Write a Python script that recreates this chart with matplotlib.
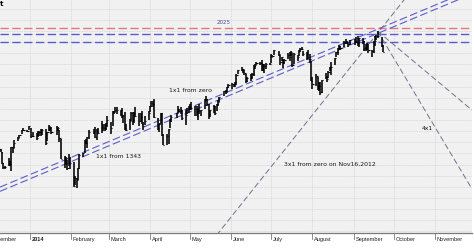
import matplotlib
matplotlib.use("Agg")
import matplotlib.pyplot as plt
import matplotlib.dates as mdates
import numpy as np
import pandas as pd
from matplotlib.ticker import MultipleLocator

# ---------------- data ----------------
holidays = ["2013-12-25", "2014-01-01", "2014-01-20", "2014-02-17",
            "2014-04-18", "2014-05-26", "2014-07-04", "2014-09-01"]
dates = pd.bdate_range("2013-12-09", "2014-09-23", freq="C", holidays=holidays)

highs = [
    # Dec 2013
    1811.52, 1808.00, 1802.97, 1782.99, 1777.23, 1792.22, 1786.77, 1811.08, 1810.88, 1823.75,
    1829.75, 1833.32, 1842.84, 1844.89, 1842.47, 1849.44,
    # Jan
    1845.86, 1838.24, 1837.16, 1840.10, 1840.02, 1843.23, 1843.15, 1843.45, 1839.26, 1850.84,
    1847.99, 1846.50, 1849.31, 1846.87, 1842.29, 1825.19, 1795.98, 1793.87, 1788.06, 1798.77,
    1793.88,
    # Feb
    1784.83, 1758.73, 1755.79, 1774.06, 1798.03, 1800.99, 1823.54, 1826.22, 1830.13, 1841.65,
    1843.88, 1847.50, 1842.87, 1846.13, 1858.71, 1852.65, 1852.94, 1854.53, 1867.92,
    # Mar
    1857.16, 1876.23, 1876.53, 1883.57, 1883.84, 1877.87, 1882.35, 1868.38, 1874.40, 1852.44,
    1862.30, 1873.76, 1874.14, 1873.49, 1883.97, 1873.34, 1871.87, 1875.92, 1855.55, 1866.63,
    1875.18,
    # Apr
    1885.84, 1893.17, 1893.80, 1897.28, 1864.04, 1854.95, 1872.43, 1872.53, 1835.07, 1834.19,
    1844.02, 1862.31, 1869.63, 1871.89, 1884.89, 1879.75, 1884.06, 1877.72, 1877.01, 1880.60,
    1885.20,
    # May
    1888.59, 1891.33, 1885.51, 1884.39, 1878.83, 1889.07, 1878.57, 1897.13, 1902.17, 1897.45,
    1888.53, 1878.28, 1886.00, 1885.39, 1888.80, 1896.33, 1901.26, 1912.28, 1914.46, 1920.03,
    1924.03,
    # Jun
    1925.88, 1925.07, 1928.63, 1941.74, 1949.44, 1955.55, 1950.86, 1949.20, 1943.36, 1937.30,
    1941.74, 1943.69, 1957.74, 1959.87, 1963.91, 1963.74, 1968.17, 1960.83, 1959.89, 1961.47,
    1962.29,
    # Jul
    1978.58, 1976.67, 1985.59, 1984.22, 1976.39, 1972.89, 1969.84, 1968.67, 1979.85, 1982.52,
    1983.94, 1979.75, 1979.91, 1976.93, 1986.24, 1989.23, 1991.39, 1984.60, 1981.52, 1984.85,
    1978.90, 1965.14,
    # Aug
    1937.35, 1942.92, 1936.34, 1927.91, 1928.89, 1932.38, 1944.90, 1939.65, 1948.41, 1955.23,
    1964.04, 1971.99, 1982.57, 1988.40, 1994.76, 1993.54, 2001.95, 2005.04, 2002.14, 1998.55,
    2004.28,
    # Sep
    2006.12, 2009.28, 2011.17, 2007.71, 2007.71, 2001.01, 1996.66, 1997.65, 1996.66, 1986.04,
    2002.33, 2010.74, 2012.34, 2019.26, 2009.08, 1995.41,
]

lows = [
    # Dec 2013
    1806.95, 1801.97, 1780.09, 1772.28, 1772.56, 1777.23, 1777.05, 1767.99, 1801.35, 1810.25,
    1822.64, 1828.02, 1834.96, 1839.81, 1838.77, 1842.41,
    # Jan
    1827.74, 1829.13, 1823.73, 1828.71, 1831.40, 1830.38, 1832.43, 1815.52, 1821.88, 1840.19,
    1840.30, 1835.23, 1832.38, 1840.88, 1820.06, 1790.29, 1772.88, 1781.82, 1770.96, 1777.13,
    1772.26,
    # Feb
    1739.66, 1743.82, 1737.92, 1752.63, 1772.64, 1792.65, 1800.41, 1815.97, 1809.22, 1825.59,
    1834.44, 1826.99, 1824.58, 1835.60, 1836.78, 1840.19, 1840.19, 1841.13, 1847.67,
    # Mar
    1834.44, 1849.23, 1871.11, 1874.18, 1870.30, 1867.04, 1863.88, 1854.38, 1841.86, 1839.57,
    1842.86, 1858.92, 1850.85, 1854.63, 1865.47, 1849.69, 1855.96, 1852.56, 1842.11, 1850.50,
    1859.36,
    # Apr
    1873.96, 1883.79, 1882.65, 1863.26, 1841.48, 1837.49, 1852.38, 1830.87, 1814.36, 1815.80,
    1816.29, 1846.13, 1856.72, 1863.18, 1872.62, 1873.91, 1870.24, 1859.70, 1850.61, 1870.78,
    1872.69,
    # May
    1878.04, 1878.50, 1866.77, 1867.72, 1859.79, 1870.05, 1867.02, 1880.03, 1896.06, 1885.77,
    1862.36, 1864.82, 1872.42, 1868.14, 1875.24, 1885.39, 1893.03, 1902.17, 1907.30, 1909.82,
    1916.64,
    # Jun
    1915.98, 1918.79, 1918.60, 1922.93, 1942.41, 1947.16, 1944.64, 1940.08, 1925.78, 1927.69,
    1929.17, 1933.55, 1939.29, 1952.26, 1959.17, 1958.89, 1948.34, 1947.49, 1944.69, 1952.18,
    1958.22,
    # Jul
    1962.29, 1972.58, 1975.88, 1974.88, 1959.46, 1965.40, 1952.86, 1959.63, 1969.80, 1965.34,
    1975.67, 1955.59, 1960.82, 1965.77, 1975.65, 1982.44, 1985.79, 1974.37, 1967.31, 1969.95,
    1962.42, 1930.67,
    # Aug
    1916.37, 1921.20, 1913.77, 1911.45, 1904.78, 1909.01, 1933.43, 1928.29, 1935.60, 1947.41,
    1941.50, 1959.45, 1972.73, 1976.77, 1986.25, 1984.76, 1991.74, 1998.59, 1996.20, 1990.52,
    1994.85,
    # Sep
    1994.85, 1998.14, 1992.54, 1990.10, 1995.60, 1984.61, 1982.99, 1985.93, 1980.26, 1973.48,
    1979.84, 1993.29, 2003.11, 2006.59, 1991.01, 1982.77,
]

closes = [
    # Dec 2013
    1808.37, 1802.62, 1782.22, 1775.50, 1775.32, 1786.54, 1781.00, 1810.65, 1809.60, 1818.32,
    1827.99, 1833.32, 1842.02, 1841.40, 1841.07, 1848.36,
    # Jan
    1831.98, 1831.37, 1826.77, 1837.88, 1837.49, 1838.13, 1842.37, 1819.20, 1838.88, 1848.38,
    1845.89, 1838.70, 1843.80, 1844.86, 1828.46, 1790.29, 1781.56, 1792.50, 1774.20, 1794.19,
    1782.59,
    # Feb
    1741.89, 1755.20, 1751.64, 1773.43, 1797.02, 1799.84, 1819.75, 1819.26, 1829.83, 1838.63,
    1840.76, 1828.75, 1839.78, 1836.25, 1847.61, 1845.12, 1845.16, 1854.29, 1859.45,
    # Mar
    1845.73, 1873.91, 1873.81, 1877.03, 1878.04, 1877.17, 1867.63, 1868.20, 1846.34, 1841.13,
    1858.83, 1872.25, 1860.77, 1872.01, 1866.52, 1857.44, 1865.62, 1852.56, 1849.04, 1857.62,
    1872.34,
    # Apr
    1885.52, 1890.90, 1888.77, 1865.09, 1845.04, 1851.96, 1872.18, 1833.08, 1815.69, 1830.61,
    1842.98, 1862.31, 1864.85, 1871.89, 1879.55, 1875.39, 1878.61, 1863.40, 1869.43, 1878.33,
    1883.95,
    # May
    1883.68, 1881.14, 1884.66, 1867.72, 1878.21, 1875.63, 1878.48, 1896.65, 1897.45, 1888.53,
    1870.85, 1877.86, 1885.08, 1872.83, 1888.03, 1892.49, 1900.53, 1911.91, 1909.78, 1920.03,
    1923.57,
    # Jun
    1924.97, 1924.24, 1927.88, 1940.46, 1949.44, 1951.27, 1950.79, 1943.89, 1930.11, 1936.16,
    1937.78, 1941.99, 1956.98, 1959.48, 1962.87, 1962.61, 1949.98, 1959.53, 1957.22, 1960.96,
    1960.23,
    # Jul
    1973.32, 1974.62, 1985.44, 1977.65, 1963.71, 1972.83, 1964.68, 1967.57, 1977.10, 1973.28,
    1981.57, 1958.12, 1978.22, 1973.63, 1983.53, 1987.01, 1987.98, 1978.34, 1978.91, 1969.95,
    1970.07, 1930.67,
    # Aug
    1925.15, 1938.99, 1920.21, 1920.24, 1909.57, 1931.59, 1936.92, 1933.75, 1946.72, 1955.18,
    1955.06, 1971.74, 1981.60, 1986.51, 1992.37, 1988.40, 1997.92, 2000.02, 2000.12, 1996.74,
    2003.37,
    # Sep
    2002.28, 2000.72, 1997.65, 2007.71, 2001.54, 1988.44, 1995.69, 1997.45, 1985.54, 1984.13,
    1998.98, 2001.57, 2011.36, 2010.40, 1994.29, 1982.77,
]

# Gann-fan parameters
origin_nov16 = "2012-11-16"      # 3x1 from zero and 1x1 from 1343 start here
base_1343 = 1343.35
origin_zero_1x1 = "2009-03-06"   # 1x1 from zero
top_date = "2014-09-19"
top_price = 2019.26
down_slopes = [4, 2]             # 4x1 and 2x1 down from the top
h_levels = [2025, 2015, 2000]
h_colors = ["#e07a7a", "#5a5ad0", "#5a5ad0"]

month_starts = pd.date_range("2013-12-01", "2014-11-01", freq="MS")
month_labels = ["December", "2014", "February", "March", "April", "May", "June",
                "July", "August", "September", "October", "November"]

# ---------------- figure ----------------
W, H = 474, 248
fig = plt.figure(figsize=(W / 100, H / 100), dpi=100)
fig.patch.set_facecolor("white")
ax = fig.add_axes([0, 15 / H, 472 / W, 233 / H])
ax.set_facecolor("#f1f1f1")

x0 = pd.Timestamp("2013-12-09 11:30")
x1 = pd.Timestamp("2014-11-28 19:00")

# grid (ticks first, then limits so the ticks do not widen the view)
ax.set_xticks(mdates.date2num(month_starts))
ax.yaxis.set_major_locator(MultipleLocator(20))
ax.set_xlim(mdates.date2num(x0), mdates.date2num(x1))
ax.set_ylim(1657.1, 2075.3)
ax.grid(True, which="major", color="#d2d2d2", linestyle=(0, (1, 1)), linewidth=0.6)
ax.set_axisbelow(True)
ax.tick_params(axis="both", which="both", length=0, labelleft=False, labelbottom=False)
for s in ["top", "right", "left"]:
    ax.spines[s].set_visible(False)
ax.spines["bottom"].set_color("#7a7a7a")
ax.spines["bottom"].set_linewidth(0.9)

# month labels + ticks
for d, lab in zip(month_starts, month_labels):
    xn = mdates.date2num(d)
    ax.plot([xn, xn], [0, -0.025], transform=ax.get_xaxis_transform(),
            color="#7a7a7a", lw=0.6, clip_on=False)
    ax.text(xn + 1.2, -0.018, lab, transform=ax.get_xaxis_transform(),
            ha="left", va="top", fontsize=4.1, family="Liberation Sans",
            fontweight="bold" if lab == "2014" else "normal", color="#222222")

# horizontal level lines
for lev, col in zip(h_levels, h_colors):
    ax.axhline(lev, color=col, lw=1.0, linestyle=(0, (6, 2.5)))

# Gann lines
lx = pd.date_range(x0, x1, periods=2)
lxn = mdates.date2num(lx)
days_nov16 = (lx - pd.Timestamp(origin_nov16)).total_seconds() / 86400
days_zero = (lx - pd.Timestamp(origin_zero_1x1)).total_seconds() / 86400

ax.plot(lxn, base_1343 + 1 * days_nov16, color="#5c5cc8", lw=0.8, linestyle=(0, (7, 3)))
ax.plot(lxn, 1 * days_zero, color="#5c5cc8", lw=0.8, linestyle=(0, (7, 3)))
ax.plot(lxn, 3 * days_nov16, color="#707090", lw=0.7, linestyle=(0, (6, 3)))

dx = pd.date_range(pd.Timestamp(top_date), x1, periods=2)
dxn = mdates.date2num(dx)
days_top = (dx - pd.Timestamp(top_date)).total_seconds() / 86400
for s in down_slopes:
    ax.plot(dxn, top_price - s * days_top, color="#707090", lw=0.7, linestyle=(0, (6, 3)))

# price bars (HLC)
xn = mdates.date2num(dates)
ax.vlines(xn, lows, highs, color="black", lw=1.15)
ax.hlines(closes, xn, xn + 0.9, color="black", lw=0.8)
ax.set_xlim(mdates.date2num(x0), mdates.date2num(x1))
ax.set_ylim(1657.1, 2075.3)

# annotations
tk = dict(transform=ax.transAxes, fontsize=4.4, color="#1a1a1a", ha="center", va="center",
          family="DejaVu Sans")
ax.text(190 / 472, 1 - 90 / 233, "1x1 from zero", **tk)
ax.text(118 / 472, 1 - 157 / 233, "1x1 from 1343", **tk)
ax.text(330 / 472, 1 - 164 / 233, "3x1 from zero on Nov16,2012", **tk)
ax.text(427 / 472, 1 - 129 / 233, "4x1", **tk)
ax.text(224 / 472, 1 - 22.5 / 233, "2025", transform=ax.transAxes, fontsize=4.0,
        color="#4a4a8a", ha="center", va="center", family="DejaVu Sans")

fig.text(0.0, 1 - 4 / H, "t", fontsize=5, fontweight="bold", ha="left", va="center")

fig.savefig("out.png", dpi=100, facecolor="white")
